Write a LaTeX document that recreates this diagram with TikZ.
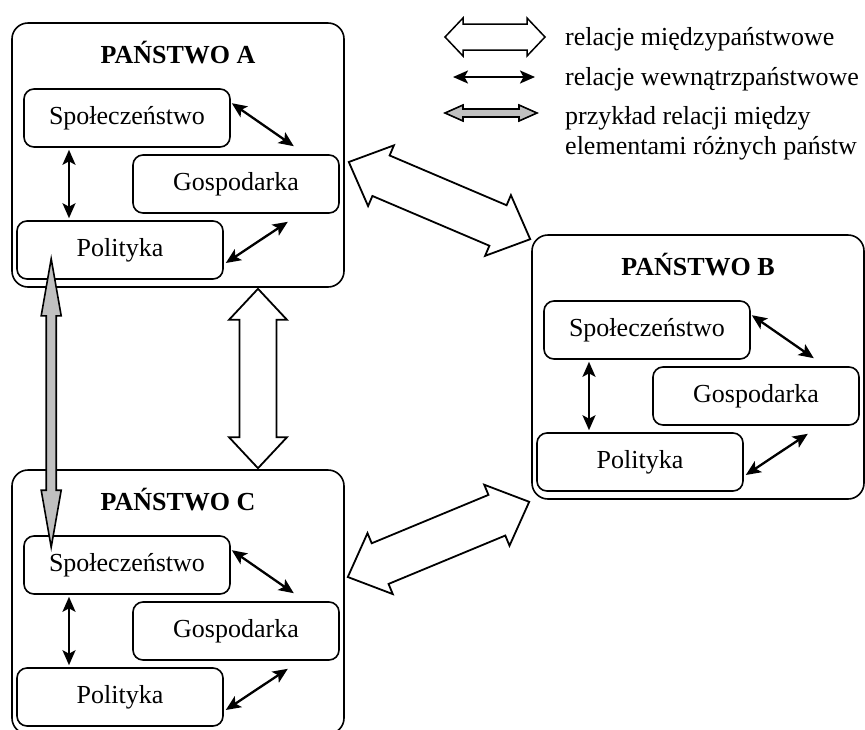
\documentclass[tikz,border=0pt]{standalone}
\usepackage{fontspec}
\setmainfont{Liberation Serif}
\usetikzlibrary{calc,arrows.meta}
\definecolor{arrgray}{RGB}{192,192,192}
\tikzset{
  outerbox/.style={draw, line width=1.6pt, rounded corners=16pt, minimum width=332pt, minimum height=264pt, inner sep=0pt},
  innerbox/.style={draw, line width=1.6pt, rounded corners=10pt, minimum width=206pt, minimum height=58pt, inner sep=0pt, font=\fontsize{26}{30}\selectfont},
  titletext/.style={anchor=base, inner sep=0pt, font=\fontsize{26}{30}\selectfont\bfseries},
  rel/.style={line width=2.3pt, >={Stealth[length=15pt,width=13pt,inset=3.5pt]}, <->},
  hollow/.style={draw, fill=white, line width=1.8pt, line join=miter},
  greyarr/.style={draw, fill=arrgray, line width=1.6pt, line join=miter},
  legtext/.style={anchor=base west, inner sep=0pt, font=\fontsize{26}{30}\selectfont},
}
% double arrow polygon between two named points
\newcommand\dblarr[6][]{%
  \draw[#1] (#2)
   -- ($($(#2)!#4!(#3)$)!#5!90:(#3)$)
   -- ($($(#2)!#4!(#3)$)!#6!90:(#3)$)
   -- ($($(#3)!#4!(#2)$)!#6!-90:(#2)$)
   -- ($($(#3)!#4!(#2)$)!#5!-90:(#2)$)
   -- (#3)
   -- ($($(#3)!#4!(#2)$)!#5!90:(#2)$)
   -- ($($(#3)!#4!(#2)$)!#6!90:(#2)$)
   -- ($($(#2)!#4!(#3)$)!#6!-90:(#3)$)
   -- ($($(#2)!#4!(#3)$)!#5!-90:(#3)$)
   -- cycle;}
% one state
\newcommand\panstwo[4]{%
  \begin{scope}[shift={(#2,#3)}]
    \node[outerbox] (#1box) at (178,155) {};
    \node[titletext] (#1t) at (178,63) {PAŃSTWO #4};
    \node[innerbox] (#1s) at (127,118) {Społeczeństwo};
    \node[innerbox] (#1g) at (236,184) {Gospodarka};
    \node[innerbox] (#1p) at (120,250) {Polityka};
  \end{scope}
  \draw[rel] ($(#1s.south)+(-58,2)$) -- ($(#1p.north)+(-51,-2)$);
  \draw[rel] ($(#1s.north east)+(1,15)$) -- ($(#1g.north east)+(-46,-8)$);
  \draw[rel] ($(#1p.east)+(2,13)$) -- ($(#1g.south east)+(-52,8)$);
}
\begin{document}
\begin{tikzpicture}[x=1pt,y=-1pt]
  \useasboundingbox (0,0) rectangle (865,729);
  \panstwo{A}{0}{0}{A}
  \panstwo{B}{520}{212}{B}
  \panstwo{C}{0}{447}{C}

  % interstate relations
  \coordinate (abA) at ($(Abox.east)+(4,7)$);
  \coordinate (abB) at ($(Bbox.north west)+(-1,5)$);
  \coordinate (cbC) at ($(Cbox.east)+(3,-25)$);
  \coordinate (cbB) at ($(Bbox.south west)+(-2,2)$);
  \coordinate (acA) at ($(Abox.south)+(80,1)$);
  \coordinate (acC) at ($(Cbox.north)+(80,-1)$);
  \dblarr[hollow]{abA}{abB}{35pt}{33pt}{22pt}
  \dblarr[hollow]{cbC}{cbB}{35pt}{33pt}{22pt}
  \dblarr[hollow]{acA}{acC}{31pt}{29pt}{18.5pt}

  % example relation between elements of different states
  \coordinate (gA) at ($(Ap.south west)+(35,-21)$);
  \coordinate (gC) at ($(Cs.north west)+(28,12)$);
  \dblarr[greyarr]{gA}{gC}{57pt}{10pt}{5pt}

  % legend
  \coordinate (l1a) at (445,37);
  \coordinate (l1b) at (545,37);
  \dblarr[hollow, line width=1.5pt]{l1a}{l1b}{18pt}{19pt}{13pt}
  \node[legtext] (t1) at (565,45) {relacje międzypaństwowe};
  \coordinate (l2a) at (453,77);
  \coordinate (l2b) at (535,77);
  \draw[rel] (l2a) -- (l2b);
  \node[legtext] (t2) at (565,85) {relacje wewnątrzpaństwowe};
  \coordinate (l3a) at (445,113);
  \coordinate (l3b) at (537,113);
  \dblarr[greyarr]{l3a}{l3b}{18pt}{8pt}{4pt}
  \node[legtext] (t3) at (565,124) {przykład relacji między};
  \node[legtext] (t4) at (565,154) {elementami różnych państw};
\end{tikzpicture}
\end{document}
